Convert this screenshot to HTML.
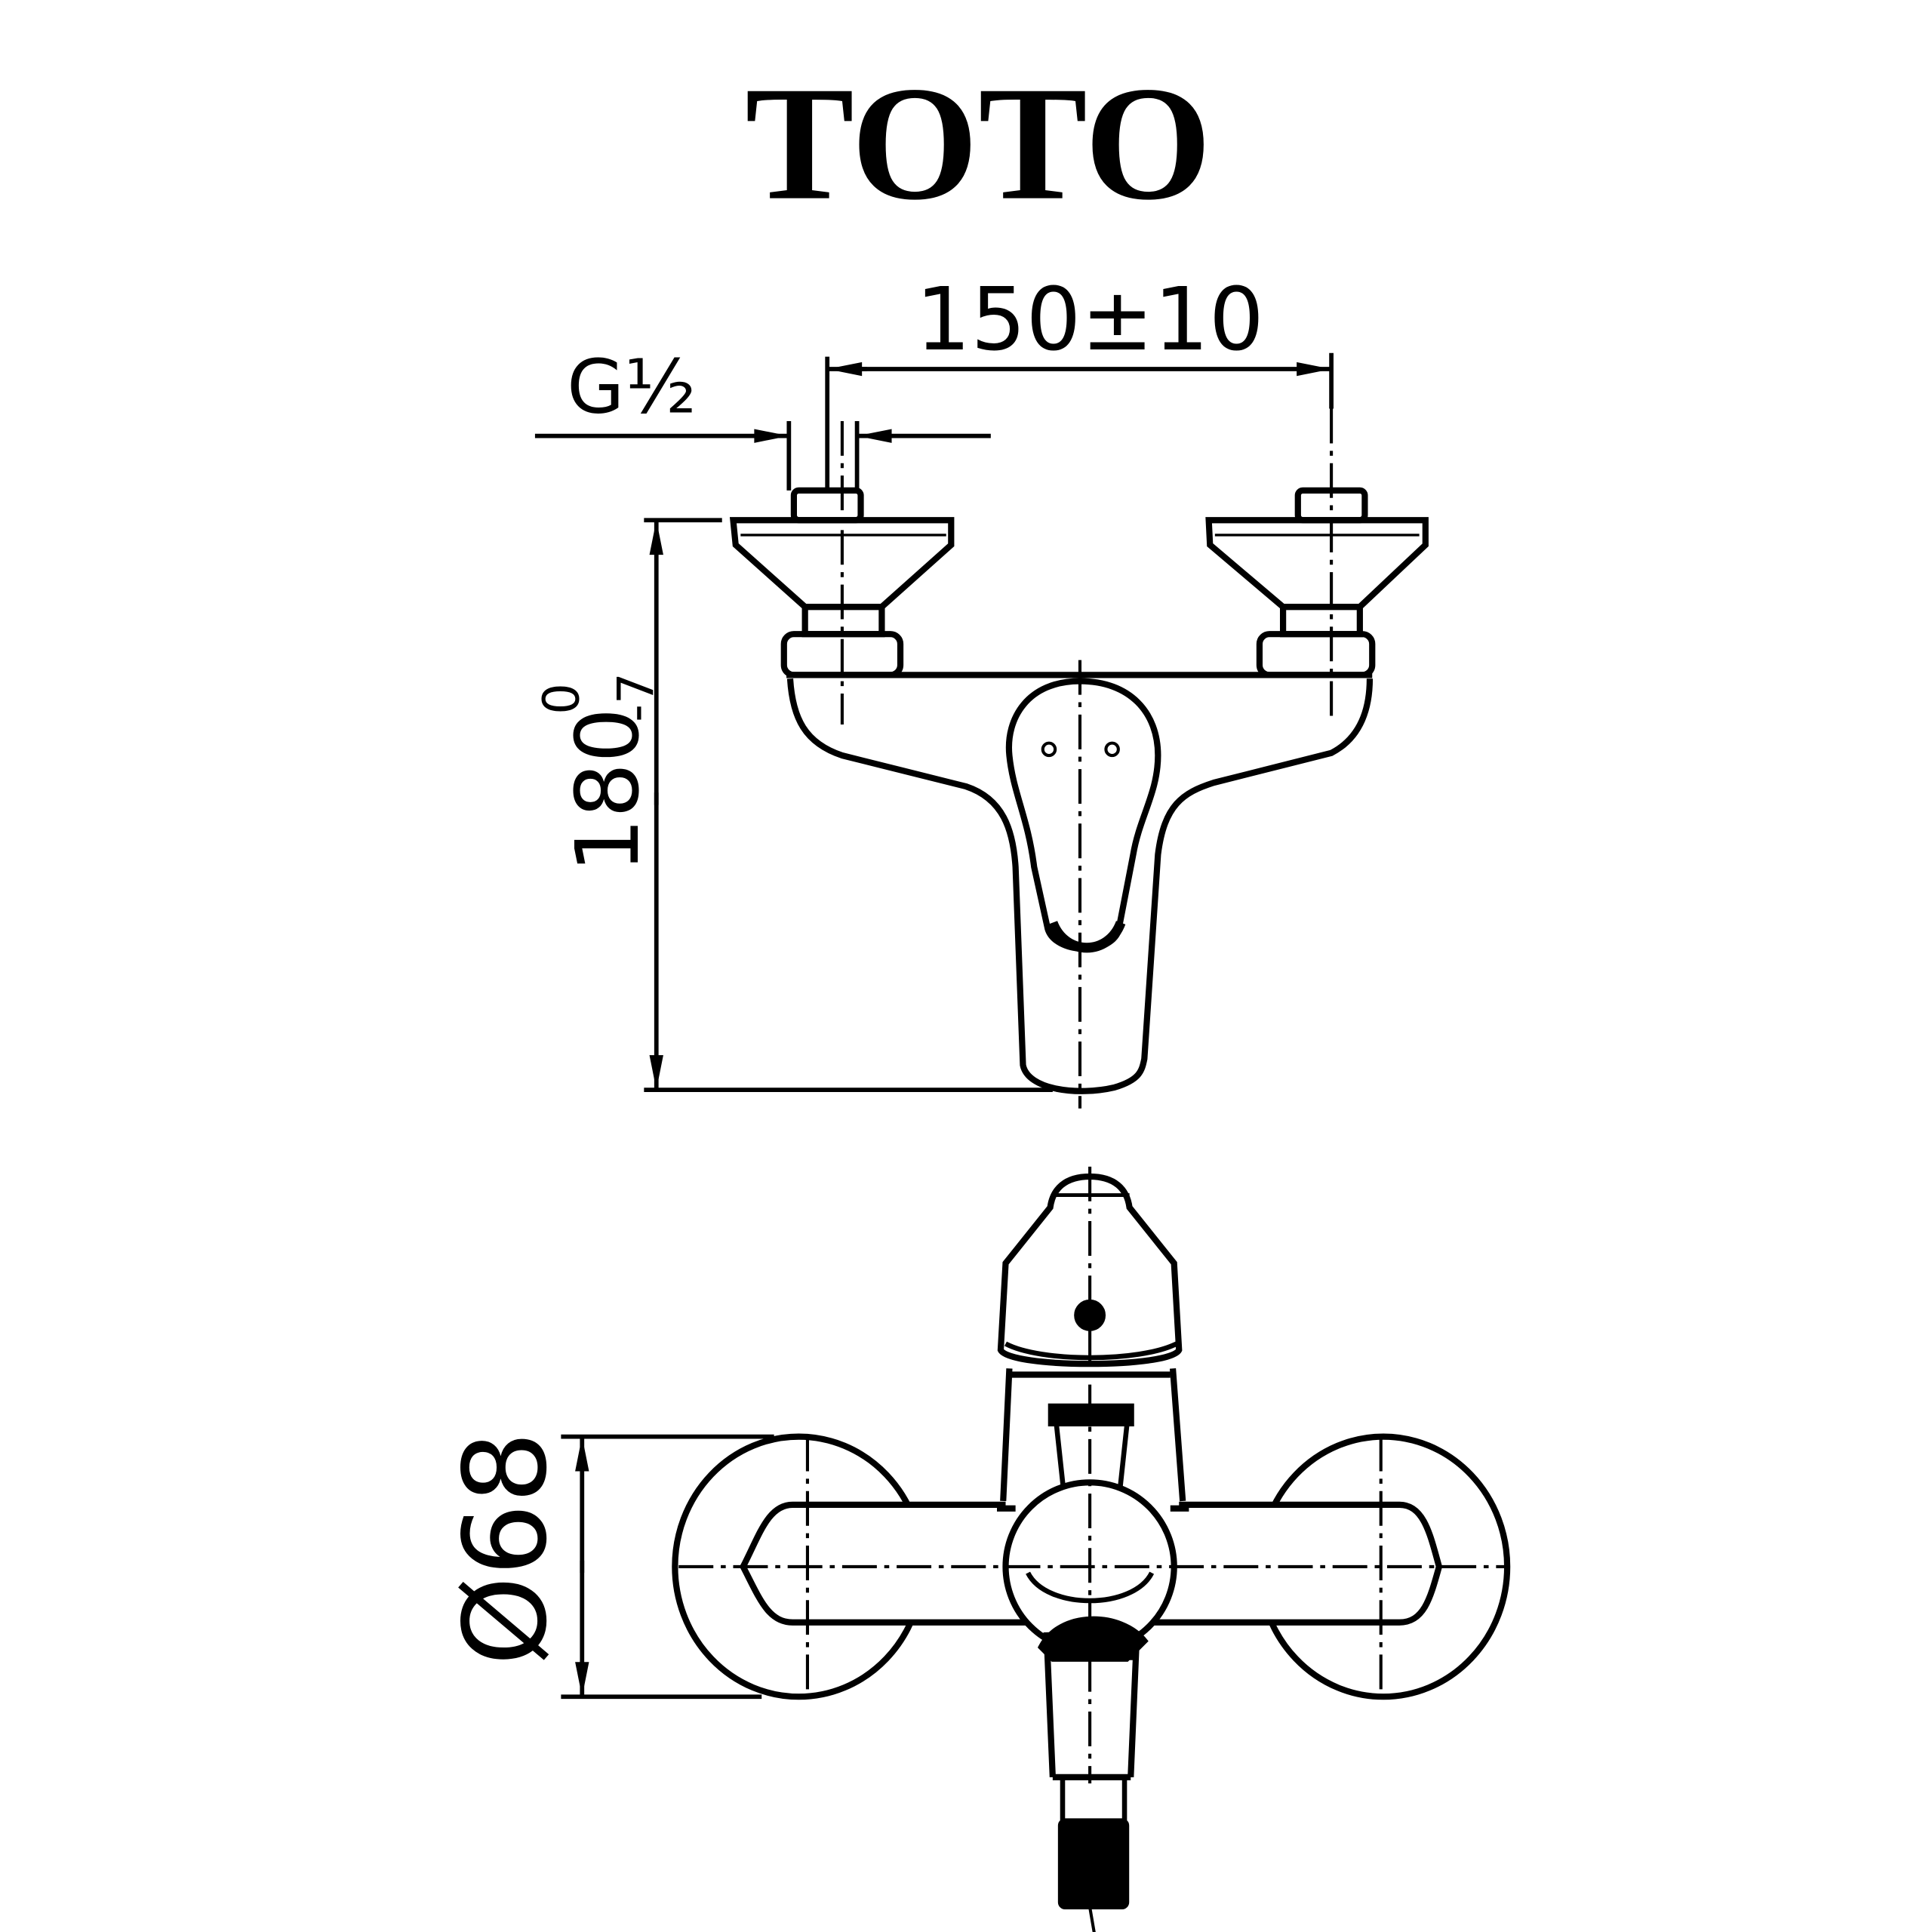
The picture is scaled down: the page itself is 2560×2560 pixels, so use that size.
<!DOCTYPE html>
<html><head><meta charset="utf-8"><style>
html,body{margin:0;padding:0;background:#fff}
svg{display:block}
</style></head><body>
<svg width="2560" height="2560" viewBox="0 0 1560 1560" xmlns="http://www.w3.org/2000/svg">
<rect width="1560" height="1560" fill="#fff"/>
<text x="790" y="160" text-anchor="middle" font-family="Liberation Serif, serif" font-weight="bold" font-size="132">TOTO</text>
<g font-family="DejaVu Sans, sans-serif" fill="#000">
<text x="880" y="282" text-anchor="middle" font-size="70">150±10</text>
<text x="510" y="333" text-anchor="middle" font-size="60">G½</text>
<g transform="translate(515,705) rotate(-90)">
<text x="0" y="0" font-size="70">180</text>
<text x="128" y="-48" font-size="40">0</text>
<text x="122" y="12" font-size="40">-7</text>
</g>
<g transform="translate(440,1345) rotate(-90)">
<text x="0" y="0" font-size="92">Ø68</text>
</g>
</g>
<defs>
<marker id="a" viewBox="0 0 20 10" refX="20" refY="5" markerWidth="40" markerHeight="14" markerUnits="userSpaceOnUse" orient="auto"><path d="M0,1 L20,5 L0,9 Z" fill="#000"/></marker>
</defs>
<g stroke="#000" fill="none" stroke-width="3.5">
<line x1="668" y1="288" x2="668" y2="398"/>
<line x1="1075" y1="285" x2="1075" y2="330"/>
<line x1="700" y1="298" x2="668" y2="298" marker-end="url(#a)"/>
<line x1="690" y1="298" x2="1075" y2="298" marker-end="url(#a)"/>
<line x1="432" y1="352" x2="637" y2="352" marker-end="url(#a)"/>
<line x1="800" y1="352" x2="692" y2="352" marker-end="url(#a)"/>
<line x1="637" y1="340" x2="637" y2="396"/>
<line x1="692" y1="340" x2="692" y2="396"/>
<line x1="520" y1="420" x2="583" y2="420"/>
<line x1="520" y1="880" x2="850" y2="880"/>
<line x1="530" y1="650" x2="530" y2="420" marker-end="url(#a)"/>
<line x1="530" y1="640" x2="530" y2="880" marker-end="url(#a)"/>
<g stroke-dasharray="28,6,4,6" stroke-width="2.5">
<line x1="680" y1="340" x2="680" y2="585"/>
<line x1="1075" y1="330" x2="1075" y2="580"/>
<line x1="872" y1="533" x2="872" y2="895"/>
</g>
<g stroke-width="5">
<rect x="641" y="396" width="54" height="24" rx="4"/>
<path d="M592,420 H768 V440 L712,490 H650 L594,440 Z"/>
<line x1="598" y1="432" x2="764" y2="432" stroke-width="2"/>
<rect x="650" y="490" width="62" height="22"/>
<rect x="633" y="512" width="94" height="33" rx="8"/>
<rect x="1048" y="396" width="54" height="24" rx="4"/>
<path d="M976,420 H1151 V440 L1098,490 H1036 L977,440 Z"/>
<line x1="981" y1="432" x2="1146" y2="432" stroke-width="2"/>
<rect x="1036" y="490" width="62" height="22"/>
<rect x="1017" y="512" width="91" height="33" rx="8"/>
<path d="M635,545 H1108"/>
<path d="M638,548 C640,580 650,600 680,610 L780,635 C810,645 818,670 820,700 L826,860 C830,880 870,885 900,878 C920,872 922,865 924,855 L935,690 C940,650 955,640 980,632 L1075,608 C1100,595 1106,570 1106,548"/>
<path d="M872,550 C830,550 812,580 815,610 C818,640 830,660 835,700 L846,750 C852,770 895,772 903,752 L915,690 C920,660 935,640 935,610 C935,575 912,550 872,550 Z"/>
<path d="M850,745 C860,772 895,772 905,745" stroke-width="8"/>
<circle cx="847" cy="605" r="5" stroke-width="2.5"/>
<circle cx="898" cy="605" r="5" stroke-width="2.5"/>
</g>
<line x1="453" y1="1160" x2="625" y2="1160"/>
<line x1="453" y1="1370" x2="615" y2="1370"/>
<line x1="470" y1="1270" x2="470" y2="1160" marker-end="url(#a)"/>
<line x1="470" y1="1260" x2="470" y2="1370" marker-end="url(#a)"/>
<g stroke-width="5">
<ellipse cx="645" cy="1265" rx="100" ry="105"/>
<ellipse cx="1117" cy="1265" rx="100" ry="105"/>
</g>
<path d="M640,1215 H1130 C1150,1215 1155,1240 1162,1265 C1155,1290 1150,1310 1130,1310 H640 C620,1310 613,1290 600,1265 C613,1240 620,1215 640,1215 Z" fill="#fff" stroke-width="5"/>
<path d="M815,1105 L810,1212 M947,1105 L955,1212" stroke-width="5"/>
<rect x="812" y="1212" width="140" height="8" fill="#fff" stroke="none"/>
<path d="M805,1218 H820 M945,1218 H960" stroke-width="5"/>
<path d="M880,950 C860,950 850,960 848,975 L812,1020 L808,1090 C815,1105 945,1105 952,1090 L948,1020 L912,975 C910,960 900,950 880,950 Z" fill="#fff" stroke-width="5"/>
<path d="M850,965 H912" stroke-width="3"/>
<path d="M812,1085 C840,1100 920,1100 950,1085" stroke-width="4"/>
<line x1="815" y1="1110" x2="945" y2="1110" stroke-width="5"/>
<circle cx="880" cy="1062" r="11" fill="#000"/>
<rect x="848" y="1135" width="66" height="15" fill="#000"/>
<path d="M853,1150 L860,1215 M910,1150 L903,1215" stroke-width="4"/>
<circle cx="880" cy="1265" r="68" fill="#fff" stroke-width="5"/>
<path d="M830,1270 C845,1300 915,1300 930,1270" stroke-width="4"/>
<path d="M840,1330 C855,1300 905,1300 925,1325 L910,1340 H850 Z" fill="#000"/>
<path d="M845,1318 L850,1435 M918,1318 L913,1435 M847,1338 H916 M850,1435 H913" stroke-width="5"/>
<path d="M858,1435 V1470 M908,1435 V1470" stroke-width="4"/>
<rect x="856" y="1470" width="54" height="70" rx="4" fill="#000"/>
<line x1="880" y1="1540" x2="886" y2="1575" stroke-width="2.5"/>
<g stroke-dasharray="28,6,4,6" stroke-width="2.5">
<line x1="548" y1="1265" x2="1218" y2="1265"/>
<line x1="652" y1="1160" x2="652" y2="1372"/>
<line x1="1115" y1="1160" x2="1115" y2="1372"/>
<line x1="880" y1="942" x2="880" y2="1440"/>
</g>
</g>
</svg>
</body></html>
